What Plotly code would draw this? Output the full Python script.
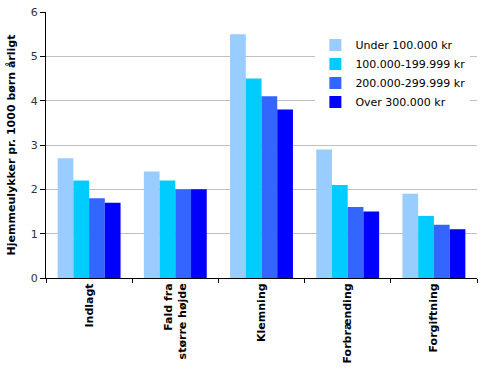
import plotly.graph_objects as go

categories = ["Indlagt", "Fald fra<br>større højde", "Klemning", "Forbrænding", "Forgiftning"]
series_names = ["Under 100.000 kr", "100.000-199.999 kr", "200.000-299.999 kr", "Over 300.000 kr"]
under_100k = [2.7, 2.4, 5.5, 2.9, 1.9]
from_100k = [2.2, 2.2, 4.5, 2.1, 1.4]
from_200k = [1.8, 2.0, 4.1, 1.6, 1.2]
over_300k = [1.7, 2.0, 3.8, 1.5, 1.1]
y_ticks = [0, 1, 2, 3, 4, 5, 6]

colors = ["#99CCFF", "#00CCFF", "#3366FF", "#0000FF"]
values = [under_100k, from_100k, from_200k, over_300k]

fig = go.Figure()
for name, vals, c in zip(series_names, values, colors):
    fig.add_trace(go.Bar(x=categories, y=vals, name=name, marker=dict(color=c, line=dict(width=0))))

fig.update_layout(
    width=486, height=374,
    margin=dict(l=46, r=9, t=12, b=96, autoexpand=False),
    barmode="group", bargap=0.27, bargroupgap=0,
    plot_bgcolor="white", paper_bgcolor="white",
    font=dict(family="DejaVu Sans", size=11, color="black"),
    showlegend=True,
    legend=dict(x=0.625, y=0.93, xanchor="left", yanchor="top", bgcolor="white",
                font=dict(size=11), itemwidth=30, tracegroupgap=0),
)
fig.update_yaxes(
    range=[0, 6], tickvals=y_ticks, showgrid=True, gridcolor="#C0C0C0", gridwidth=1,
    showline=True, linecolor="black", linewidth=1, ticks="outside", ticklen=5, tickcolor="black",
    zeroline=False, automargin=False, tickfont=dict(color="#333333"),
    title=dict(text="<b>Hjemmeulykker pr. 1000 børn årligt</b>", font=dict(size=11), standoff=12),
)
fig.update_xaxes(
    showline=True, linecolor="black", linewidth=1, ticks="outside", ticklen=4, tickcolor="black",
    tickson="boundaries", tickangle=-90, automargin=False,
    tickvals=categories, ticktext=["<b>" + c + "</b>" for c in categories],
)
fig.write_html("out.html", config={"displayModeBar": False},
               post_script="document.body.style.margin='0';document.body.style.overflow='hidden';")
